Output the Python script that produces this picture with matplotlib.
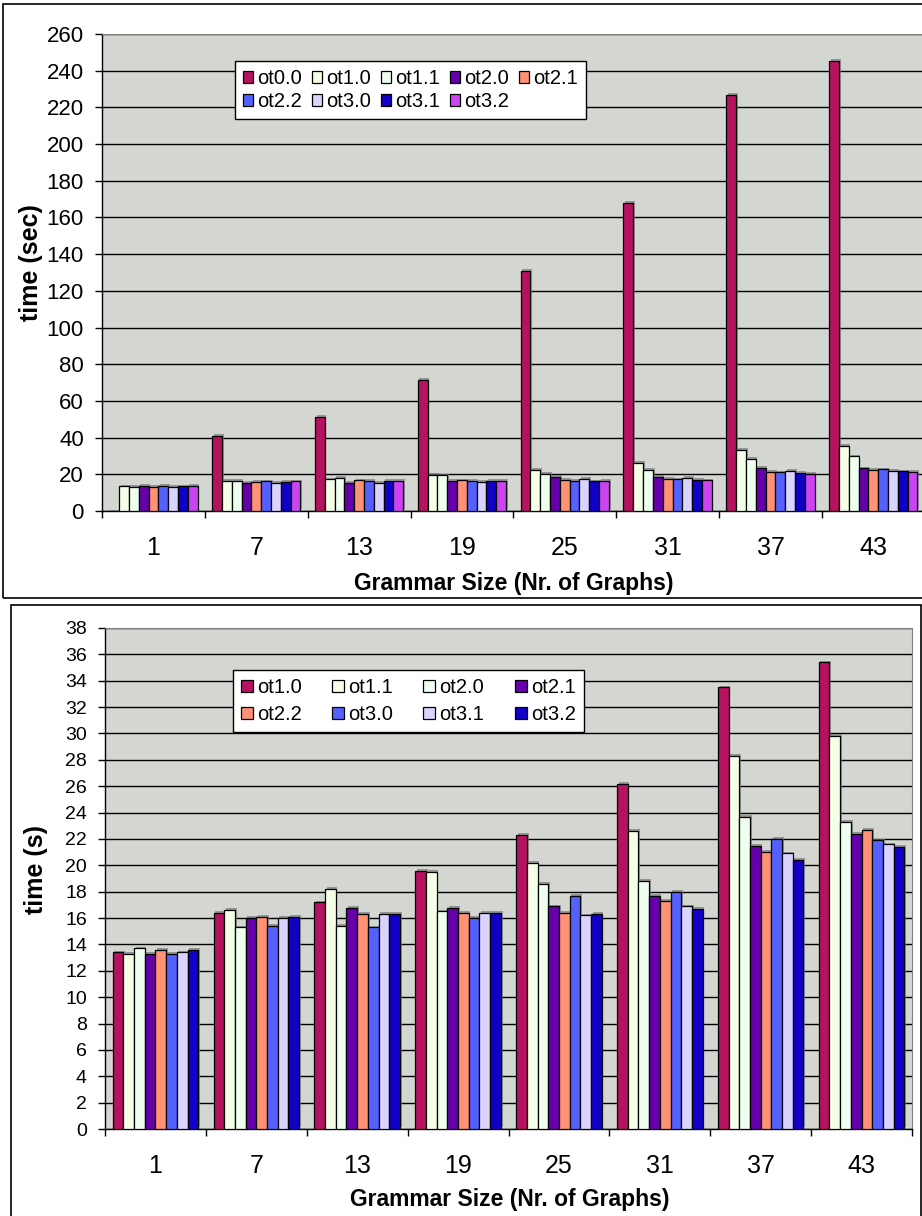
import numpy as np
import matplotlib
matplotlib.use('Agg')
from matplotlib import pyplot as plt
from matplotlib.patches import Rectangle, Patch
import matplotlib.patheffects as pe

plt.rcParams['font.family'] = ['Liberation Sans', 'DejaVu Sans']

GROUPS = ['1', '7', '13', '19', '25', '31', '37', '43']

# time per grammar size
OT00 = [0, 41, 51.5, 71.5, 131, 168, 227, 245.5]
OT10 = [13.4, 16.4, 17.2, 19.6, 22.3, 26.2, 33.5, 35.4]
OT11 = [13.3, 16.6, 18.2, 19.5, 20.2, 22.6, 28.3, 29.8]
OT20 = [13.7, 15.3, 15.4, 16.5, 18.6, 18.8, 23.7, 23.3]
OT21 = [13.3, 16.0, 16.8, 16.8, 16.9, 17.7, 21.5, 22.4]
OT22 = [13.6, 16.1, 16.3, 16.4, 16.4, 17.3, 21.0, 22.7]
OT30 = [13.3, 15.4, 15.3, 16.0, 17.7, 18.0, 22.0, 21.9]
OT31 = [13.4, 16.0, 16.3, 16.4, 16.2, 16.9, 20.9, 21.6]
OT32 = [13.6, 16.1, 16.3, 16.4, 16.3, 16.7, 20.4, 21.4]

LABELS_TOP = ['ot0.0', 'ot1.0', 'ot1.1', 'ot2.0', 'ot2.1', 'ot2.2', 'ot3.0', 'ot3.1', 'ot3.2']
LABELS_BOTTOM = ['ot1.0', 'ot1.1', 'ot2.0', 'ot2.1', 'ot2.2', 'ot3.0', 'ot3.1', 'ot3.2']

COLORS = ['#b5135f', '#f5ffe8', '#eefff0', '#6600aa', '#ff9175',
          '#5561ff', '#dad2ff', '#1100c6', '#cc44f2']

BG = '#d4d6d2'
W, H = 922, 1216


def px_axes(fig, left, top, right, bottom):
    return fig.add_axes([left / W, 1 - bottom / H, (right - left) / W, (bottom - top) / H])


def draw_panel(ax, series, labels, colors, bar_w, ymax, ystep, ysize, ylabel, ylab_xy, xlab_xy,
               leg_xy, ncol, colspace, labspace, hsize):
    x = np.arange(len(GROUPS))
    n = len(series)
    shadow = [pe.SimplePatchShadow(offset=(1.2, 1.2), shadow_rgbFace='#7a7a7a', alpha=0.7), pe.Normal()]
    for i, vals in enumerate(series):
        off = (i - (n - 1) / 2) * bar_w
        b = ax.bar(x + off, vals, width=bar_w, color=colors[i], edgecolor='black',
                   linewidth=0.9, zorder=3)
        for p in b:
            p.set_path_effects(shadow)

    ax.set_facecolor(BG)
    ax.set_xlim(-0.5, len(GROUPS) - 0.5)
    ax.set_ylim(0, ymax)
    ax.set_yticks(np.arange(0, ymax + 0.1, ystep))
    ax.yaxis.grid(True, color='black', linewidth=1.0, zorder=0)
    ax.set_axisbelow(True)

    ax.set_xticks(np.arange(-0.5, len(GROUPS)), labels=[''] * (len(GROUPS) + 1))
    ax.set_xticks(x, labels=GROUPS, minor=True)
    ax.tick_params(axis='x', which='major', length=5, width=1, direction='out')
    ax.tick_params(axis='x', which='minor', length=0, pad=18, labelsize=18)
    ax.tick_params(axis='y', length=5, width=1, pad=8, labelsize=ysize)

    ax.spines['top'].set_color('#808080')
    ax.spines['right'].set_color('#808080')
    ax.spines['left'].set_linewidth(1)
    ax.spines['bottom'].set_linewidth(1)

    ax.set_ylabel(ylabel, fontsize=18, fontweight='bold')
    ax.yaxis.set_label_coords(*ylab_xy)
    ax.set_xlabel('Grammar Size (Nr. of Graphs)', fontsize=16.5, fontweight='bold')
    ax.xaxis.set_label_coords(*xlab_xy)

    # legend keys as plain patches, laid out row by row
    handles = [Patch(facecolor=colors[k], edgecolor='black', linewidth=0.9) for k in range(n)]
    nrows = int(np.ceil(n / ncol))
    order = []
    for c in range(ncol):
        for r in range(nrows):
            k = r * ncol + c
            if k < n:
                order.append(k)
    leg = ax.legend([handles[k] for k in order], [labels[k] for k in order], ncol=ncol,
                    loc='upper left', bbox_to_anchor=(leg_xy[0] / W, 1 - leg_xy[1] / H),
                    bbox_transform=fig.transFigure, fontsize=14.5, frameon=True,
                    fancybox=False, edgecolor='black', framealpha=1, borderpad=0.4,
                    handlelength=hsize, handleheight=hsize, handletextpad=0.2,
                    columnspacing=colspace, labelspacing=labspace, borderaxespad=0)
    leg.get_frame().set_linewidth(1.0)
    leg.set_zorder(10)


fig = plt.figure(figsize=(W / 100, H / 100), dpi=100)

# outer frames around both charts
fig.patches.append(Rectangle((3 / W, 1 - 598 / H), 960 / W, 594 / H, transform=fig.transFigure,
                             fill=False, edgecolor='black', linewidth=1.2))
fig.patches.append(Rectangle((10.5 / W, 1 - 1230 / H), 910 / W, 625 / H, transform=fig.transFigure,
                             fill=False, edgecolor='black', linewidth=1.2))

ax1 = px_axes(fig, 102, 34, 924.7, 511)
draw_panel(ax1, [OT00, OT10, OT11, OT20, OT21, OT22, OT30, OT31, OT32], LABELS_TOP, COLORS,
           0.0954, 260, 20, 16, 'time (sec)', (-0.072, 0.52), (0.5, -0.128), (235, 61), 5, 0.5, 0.2, 0.5)

ax2 = px_axes(fig, 105, 628, 912, 1129)
draw_panel(ax2, [OT10, OT11, OT20, OT21, OT22, OT30, OT31, OT32], LABELS_BOTTOM, COLORS[:8],
           0.106, 38, 2, 14, 'time (s)', (-0.071, 0.517), (0.502, -0.118), (233, 670), 4, 1.5, 0.4, 0.6)

fig.savefig('out.png', dpi=100)
